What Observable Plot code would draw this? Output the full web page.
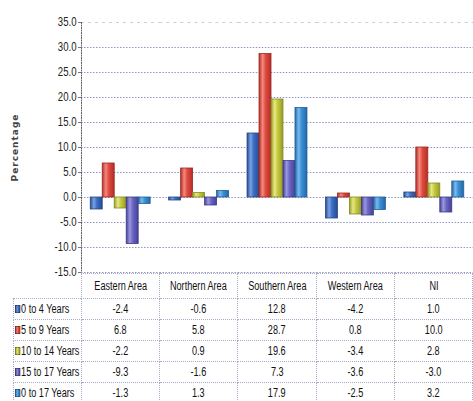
<!DOCTYPE html>
<html>
<head>
<meta charset="utf-8">
<script src="https://cdn.jsdelivr.net/npm/d3@7"></script>
<script src="https://cdn.jsdelivr.net/npm/@observablehq/plot@0.6"></script>
<style>
  html, body { margin: 0; padding: 0; background: #fff; }
  body { width: 473px; height: 401px; overflow: hidden; font-family: "Liberation Sans", Arial, sans-serif; }
  #chart svg { display: block; overflow: visible; }
  #chart g[aria-label="y-axis label"] text { font-family: "DejaVu Sans", sans-serif; font-size: 9px; letter-spacing: 1px; fill: #444; font-weight: bold; }
  table { border-collapse: collapse; table-layout: fixed; width: 473px; font-size: 12px; color: #111; }
  td { padding: 0; text-align: center; white-space: nowrap; overflow: hidden; border: 1px dotted #a8aac8; }
  td.blank { border: none; }
  tr.head td { height: 24px; }
  tr.row td { height: 20px; }
  td.label { text-align: left; padding-left: 1px; }
  .narrow { display: inline-block; transform: scaleX(0.76); transform-origin: center center; }
  td.label .narrow { transform-origin: left center; }
  .sw { display: inline-block; width: 5px; height: 6px; margin-right: 1px; vertical-align: 0; border: 0.5px solid rgba(0,0,0,0.35); }
</style>
</head>
<body>
<div id="chart"></div>
<div id="table"></div>
<script>
// Areas (table columns) and age groups (series)
const areas = ["Eastern Area", "Northern Area", "Southern Area", "Western Area", "NI"];
const ageGroups = ["0 to 4 Years", "5 to 9 Years", "10 to 14 Years", "15 to 17 Years", "0 to 17 Years"];

// Percentage change per area, one list per age group
const age0to4 = [-2.4, -0.6, 12.8, -4.2, 1.0];
const age5to9 = [6.8, 5.8, 28.7, 0.8, 10.0];
const age10to14 = [-2.2, 0.9, 19.6, -3.4, 2.8];
const age15to17 = [-9.3, -1.6, 7.3, -3.6, -3.0];
const age0to17 = [-1.3, 1.3, 17.9, -2.5, 3.2];
const seriesValues = [age0to4, age5to9, age10to14, age15to17, age0to17];

// Value axis ticks
const yTicks = [-15, -10, -5, 0, 5, 10, 15, 20, 25, 30, 35];

// Bar shading: [base, highlight, edge, outline]
const seriesShades = [
  ["#3d6fc4", "#79a2e4", "#264c92", "#2a4680"],
  ["#e04a40", "#f38a80", "#b32e26", "#9a2a22"],
  ["#c6ca3e", "#e6e884", "#959b26", "#868a24"],
  ["#6a66c2", "#9b97e0", "#464296", "#3e3a86"],
  ["#3b8fd6", "#7ab9ee", "#2468a6", "#235f96"]
];

const rows = ageGroups.flatMap((group, i) =>
  areas.map((area, j) => ({area, group, idx: i, value: seriesValues[i][j]}))
);

const fmt = d => d.toFixed(1);

const chart = Plot.plot({
  width: 473,
  height: 273,
  marginLeft: 81,
  marginRight: 0,
  marginTop: 22,
  marginBottom: 1,
  style: {
    fontFamily: '"Liberation Sans", Arial, sans-serif',
    fontSize: "12px",
    background: "transparent",
    color: "#222"
  },
  fx: {domain: areas, padding: 0, round: false, axis: null},
  x: {domain: ageGroups, paddingInner: 0, paddingOuter: 0.77, round: false, axis: null},
  y: {domain: [-15, 35], axis: null},
  color: {type: "identity"},
  marks: [
    Plot.gridY(yTicks.filter(t => t < 35), {stroke: "#6c70b6", strokeOpacity: 0.75, strokeDasharray: "1.5,1.5", strokeWidth: 1}),
    Plot.gridY([35], {stroke: "#8a8cc0", strokeOpacity: 0.45, strokeDasharray: "3,4", strokeWidth: 1}),
    Plot.axisY(yTicks, {
      anchor: "left",
      tickSize: 3,
      tickPadding: 2,
      tickFormat: fmt,
      stroke: "#777",
      label: "Percentage",
      labelArrow: "none",
      labelAnchor: "center",
      labelOffset: 70
    }),
    Plot.frame({anchor: "left", facetAnchor: "left", stroke: "#666", strokeDasharray: "1,1.5"}),
    Plot.barY(rows, {
      fx: "area",
      x: "group",
      y: "value",
      fill: d => `url(#bar-shade-${d.idx})`,
      stroke: d => seriesShades[d.idx][3],
      strokeWidth: 0.8
    })
  ]
});

// Horizontal cylinder-like shading for each series
const defs = document.createElementNS("http://www.w3.org/2000/svg", "defs");
seriesShades.forEach(([base, light, edge], i) => {
  const g = document.createElementNS("http://www.w3.org/2000/svg", "linearGradient");
  g.setAttribute("id", `bar-shade-${i}`);
  g.setAttribute("x1", "0"); g.setAttribute("x2", "1");
  g.setAttribute("y1", "0"); g.setAttribute("y2", "0");
  [[0, edge], [0.3, light], [0.55, base], [1, edge]].forEach(([o, c]) => {
    const s = document.createElementNS("http://www.w3.org/2000/svg", "stop");
    s.setAttribute("offset", o);
    s.setAttribute("stop-color", c);
    g.appendChild(s);
  });
  defs.appendChild(g);
});
chart.insertBefore(defs, chart.firstChild);

// Condensed tick labels: squeeze each label horizontally about its right edge
chart.querySelectorAll('g[aria-label="y-axis tick label"] text').forEach(t => {
  const tr = t.getAttribute("transform") || "";
  t.setAttribute("transform", `${tr} scale(0.8,1)`);
});
// Plain axis title, without a direction arrow
chart.querySelectorAll('g[aria-label="y-axis label"] text').forEach(t => {
  t.textContent = t.textContent.replace(/\s*[↑↓]\s*/g, "");
});
document.getElementById("chart").appendChild(chart);

// Data table under the chart
const table = document.createElement("table");
const colgroup = document.createElement("colgroup");
[13, 68, ...areas.map(() => 78.4)].forEach(w => {
  const c = document.createElement("col");
  c.style.width = w + "px";
  colgroup.appendChild(c);
});
table.appendChild(colgroup);

const head = document.createElement("tr");
head.className = "head";
head.innerHTML = `<td class="blank"></td><td class="blank"></td>` + areas.map(a => `<td><span class="narrow">${a}</span></td>`).join("");
table.appendChild(head);

ageGroups.forEach((group, i) => {
  const tr = document.createElement("tr");
  tr.className = "row";
  const [base, light, edge] = seriesShades[i];
  tr.innerHTML = `<td class="blank"></td><td class="label"><span class="narrow"><span class="sw" style="background:linear-gradient(90deg, ${edge}, ${light}, ${base}, ${edge})"></span>${group}</span></td>` +
    seriesValues[i].map(v => `<td><span class="narrow">${fmt(v)}</span></td>`).join("");
  table.appendChild(tr);
});
document.getElementById("table").appendChild(table);
</script>
</body>
</html>
